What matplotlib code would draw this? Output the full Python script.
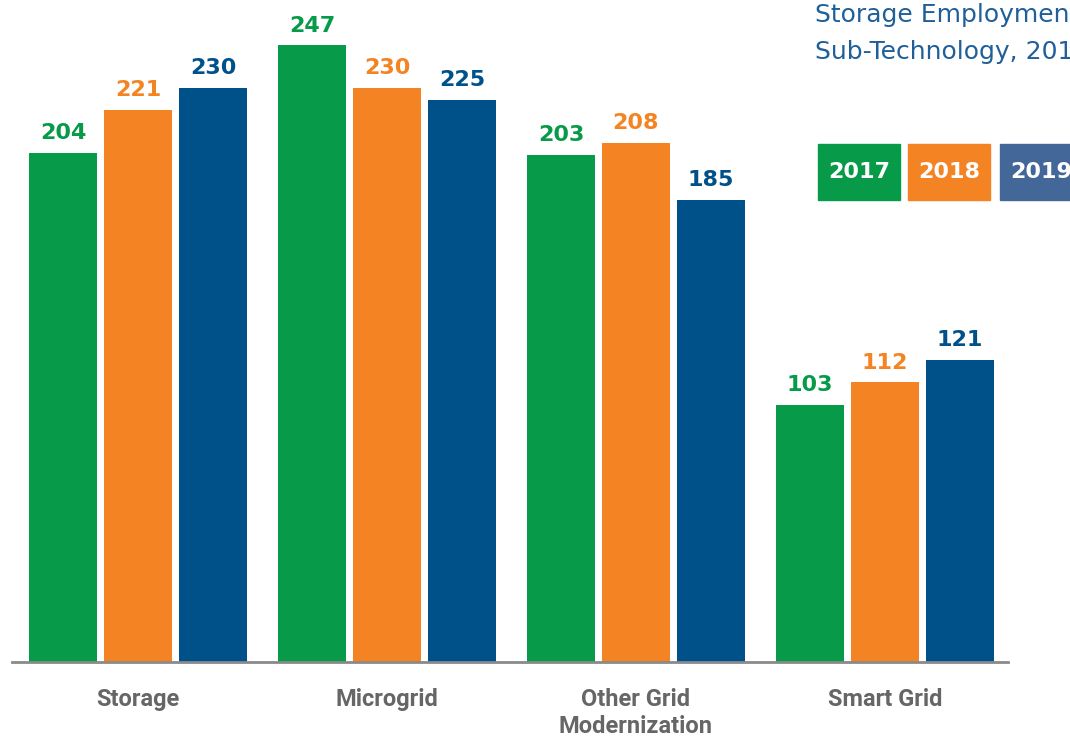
import matplotlib
matplotlib.use("Agg")
import matplotlib.pyplot as plt
from matplotlib.patches import Rectangle

categories = ["Storage", "Microgrid", "Other Grid\nModernization", "Smart Grid"]
years = ["2017", "2018", "2019"]
v2017 = [204, 247, 203, 103]
v2018 = [221, 230, 208, 112]
v2019 = [230, 225, 185, 121]
title = "Storage Employment by\nSub-Technology, 2017-2019"

bar_colors = ["#079a48", "#f48423", "#005189"]
legend_colors = ["#079a48", "#f48423", "#44679a"]
series = [v2017, v2018, v2019]

W, H = 1070, 737
left_px, right_px = 12, 1008
fig = plt.figure(figsize=(W / 100, H / 100), dpi=100)
ax = fig.add_axes([left_px / W, 75 / H, (right_px - left_px) / W, 662 / H])

px_per_group = 249
c0 = 138
ax.set_xlim(-(c0 - left_px) / px_per_group, (right_px - c0) / px_per_group)
ax.set_ylim(0, 662 / 2.497)

bw = 68 / px_per_group
step = 75 / px_per_group
for i, (vals, col) in enumerate(zip(series, bar_colors)):
    xs = [g + (i - 1) * step for g in range(len(categories))]
    ax.bar(xs, vals, width=bw, color=col, zorder=2)
    for x, v in zip(xs, vals):
        ax.annotate(str(v), (x, v), xytext=(0, 7), textcoords="offset points",
                    ha="center", va="bottom", fontsize=16, fontweight="bold",
                    color=col, family="DejaVu Sans")

for s in ["top", "right", "left"]:
    ax.spines[s].set_visible(False)
ax.spines["bottom"].set_color("#8a8a8a")
ax.spines["bottom"].set_linewidth(2)
ax.set_yticks([])
ax.set_xticks(range(len(categories)))
ax.set_xticklabels(categories, fontsize=17, fontweight="bold", color="#666666",
                   family="Roboto", linespacing=1.2, va="top")
ax.tick_params(axis="x", length=0, pad=19)
ax.set_facecolor("none")

# title (cropped at right edge like reference)
fig.text(815 / W, 1 - 3 / H, title, ha="left", va="top", fontsize=18,
         color="#1f5f9a", family="DejaVu Sans", linespacing=1.7)

# legend boxes
box_x = [818, 908, 1000]
box_w = 82
for bx, lab, col in zip(box_x, years, legend_colors):
    fig.patches.append(Rectangle((bx / W, 1 - 200 / H), box_w / W, 56 / H,
                                 transform=fig.transFigure, color=col))
    fig.text((bx + box_w / 2) / W, 1 - 172 / H, lab, ha="center", va="center",
             fontsize=16, fontweight="bold", color="white", family="DejaVu Sans")

fig.savefig("out.png", dpi=100)
